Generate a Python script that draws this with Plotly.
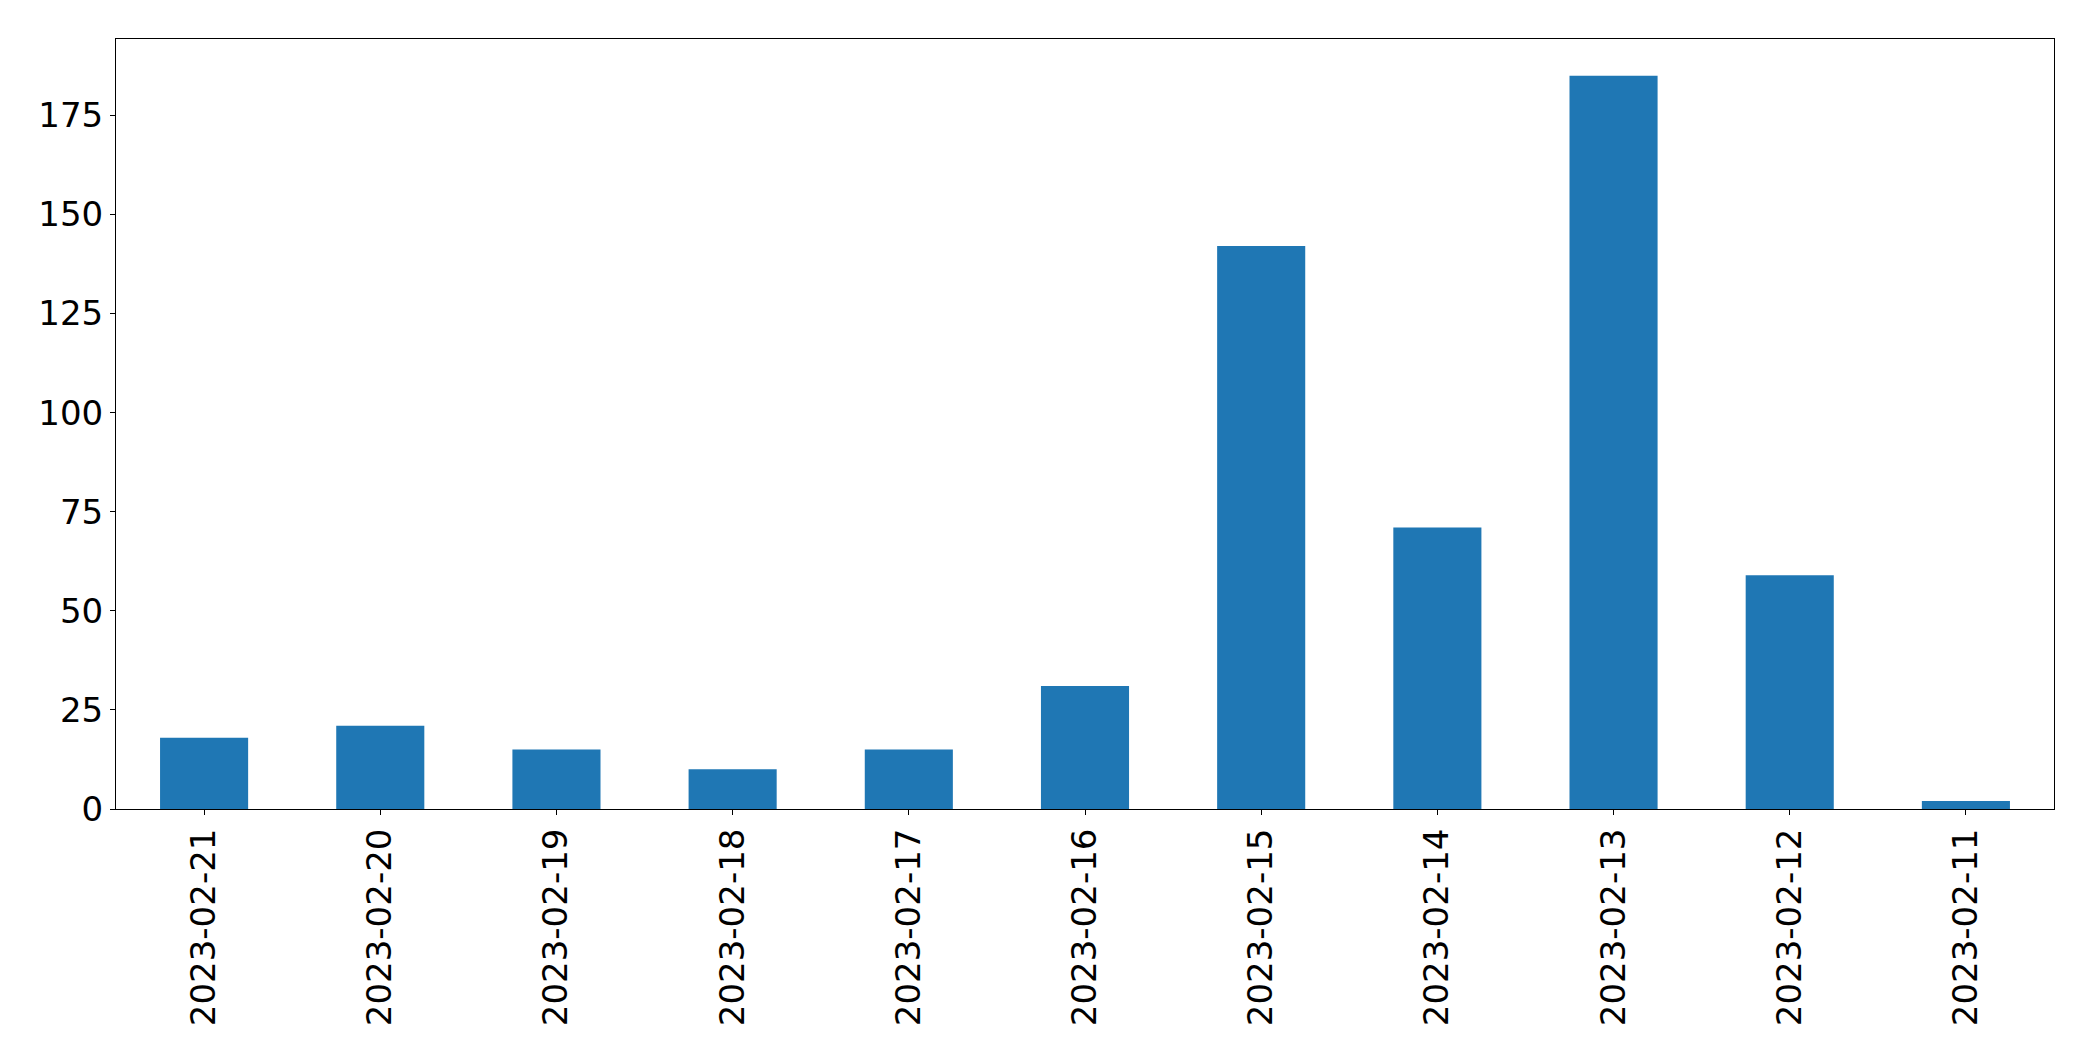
import plotly.graph_objects as go

dates = ["2023-02-21", "2023-02-20", "2023-02-19", "2023-02-18", "2023-02-17",
         "2023-02-16", "2023-02-15", "2023-02-14", "2023-02-13", "2023-02-12",
         "2023-02-11"]
counts = [18, 21, 15, 10, 15, 31, 142, 71, 185, 59, 2]
y_ticks = [0, 25, 50, 75, 100, 125, 150, 175]

fig = go.Figure()
fig.add_trace(go.Bar(x=dates, y=counts, marker=dict(color="#1f77b4", line=dict(width=0)),
                     width=0.5))

font = dict(family="DejaVu Sans", size=34, color="black")
fig.update_layout(
    width=2093, height=1061, autosize=False,
    margin=dict(l=108, r=47, t=31, b=260, pad=0),
    plot_bgcolor="white", paper_bgcolor="white",
    showlegend=False,
    font=font,
)
fig.update_xaxes(
    type="category", range=[-0.5, len(dates) - 0.5],
    tickangle=-90, tickfont=font,
    showline=True, linecolor="black", linewidth=1, mirror=True,
    ticks="outside", ticklen=5, tickwidth=1, tickcolor="black",
    showgrid=False, zeroline=False,
)
fig.update_yaxes(
    range=[0, max(counts) * 1.05], tickvals=y_ticks, tickfont=font,
    showline=True, linecolor="black", linewidth=1, mirror=True,
    ticks="outside", ticklen=5, tickwidth=1, tickcolor="black",
    showgrid=False, zeroline=False,
)
fig.write_html("out.html")
